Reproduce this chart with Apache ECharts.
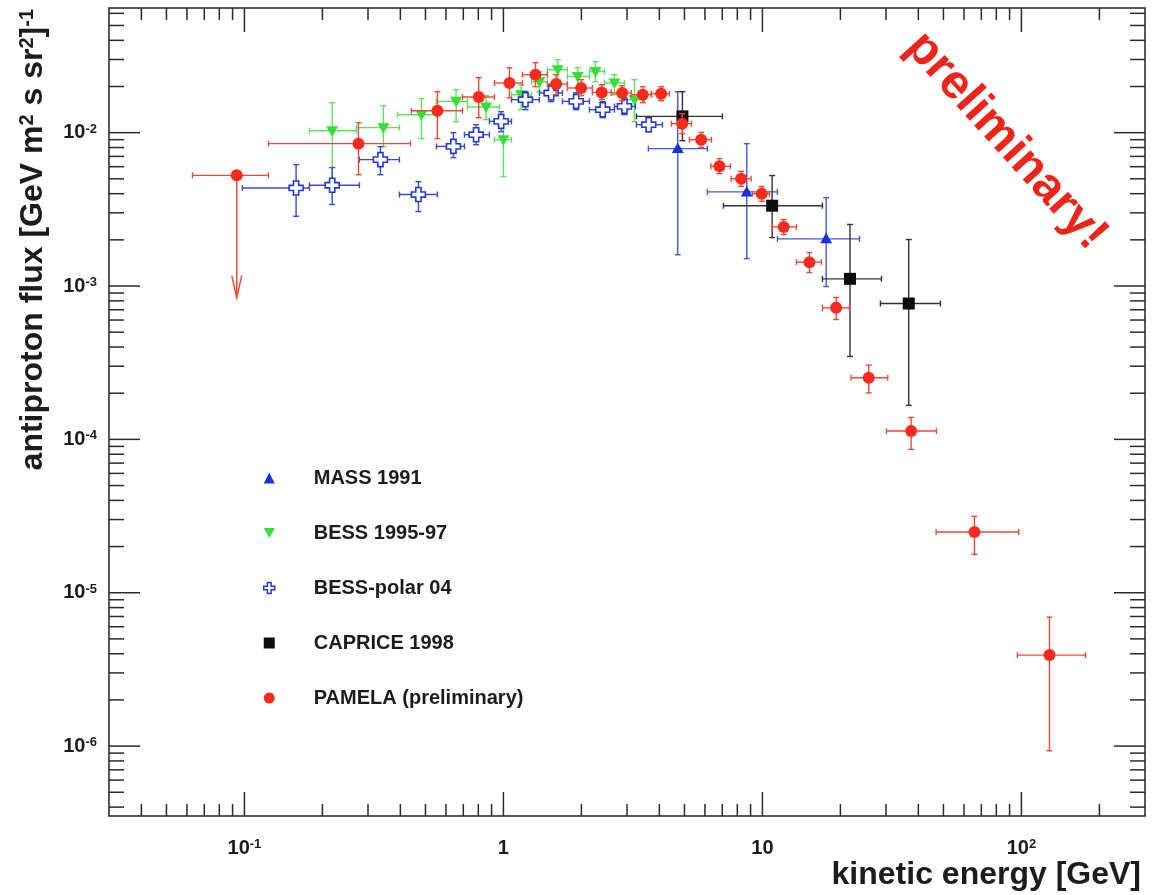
<!DOCTYPE html>
<html>
<head>
<meta charset="utf-8">
<script src="https://cdn.jsdelivr.net/npm/echarts@6/dist/echarts.min.js"></script>
<style>
  html, body { margin: 0; padding: 0; background: #fff; }
  #chart { width: 1157px; height: 895px; }
</style>
</head>
<body>
<div id="chart"></div>
<script>
// ---- axis ranges (GeV, flux) ----
const X_MIN = 0.03, X_MAX = 300;
const Y_MIN = 3.5e-7, Y_MAX = 0.065;
const xMajorTicks = [0.1, 1, 10, 100];
const yMajorTicks = [1e-6, 1e-5, 1e-4, 1e-3, 1e-2];

// ---- PAMELA (preliminary) ----
const pamelaEnergy     = [0.2756, 0.5561, 0.8028, 1.055, 1.329, 1.598, 1.995, 2.396, 2.873, 3.451, 4.064, 4.898, 5.800, 6.823, 8.277, 9.94, 12.08, 15.19, 19.26, 25.73, 37.51, 65.85, 128.3];
const pamelaFlux       = [0.00848, 0.01391, 0.01709, 0.02107, 0.02386, 0.02076, 0.01955, 0.01830, 0.01814, 0.01769, 0.01795, 0.01144, 0.00900, 0.00603, 0.00501, 0.00400, 0.00243, 0.00143, 0.000721, 0.000252, 0.0001133, 2.49e-5, 3.92e-6];
const pamelaEnergyLow  = [0.1238, 0.4414, 0.6948, 0.9232, 1.184, 1.479, 1.766, 2.206, 2.612, 3.120, 3.727, 4.452, 5.226, 6.32, 7.57, 9.15, 10.93, 13.53, 17.05, 22.0, 30.12, 46.84, 96.5];
const pamelaEnergyHigh = [0.4375, 0.6948, 0.9232, 1.184, 1.479, 1.766, 2.206, 2.612, 3.120, 3.727, 4.374, 5.320, 6.355, 7.52, 9.04, 10.64, 13.53, 16.9, 21.68, 30.47, 46.96, 97.6, 176.7];
const pamelaFluxLow    = [0.00532, 0.00914, 0.01252, 0.01690, 0.01994, 0.01769, 0.01742, 0.01641, 0.01616, 0.01568, 0.01616, 0.00985, 0.00799, 0.0054, 0.00447, 0.00357, 0.002165, 0.001225, 0.000605, 0.000201, 0.0000861, 1.78e-5, 9.32e-7];
const pamelaFluxHigh   = [0.01162, 0.0185, 0.02282, 0.02651, 0.02858, 0.02386, 0.02215, 0.02054, 0.02024, 0.01994, 0.01994, 0.0133, 0.01005, 0.00677, 0.0056, 0.00445, 0.00271, 0.001653, 0.000842, 0.000305, 0.000139, 3.15e-5, 6.93e-6];
// lowest-energy PAMELA bin: upper limit [energy, flux, energy low, energy high, arrow tip]
const pamelaLimit = [0.0934, 0.00527, 0.063, 0.1238, 0.00084];

// ---- BESS-polar 04 ----
const bessPolarEnergy     = [0.1583, 0.2182, 0.335, 0.4696, 0.6411, 0.7845, 0.9797, 1.216, 1.528, 1.909, 2.418, 2.933, 3.639];
const bessPolarFlux       = [0.00436, 0.00454, 0.00667, 0.00395, 0.00814, 0.0097, 0.01185, 0.01641, 0.01814, 0.0160, 0.01412, 0.01483, 0.01127];
const bessPolarEnergyLow  = [0.0982, 0.1782, 0.278, 0.3967, 0.5512, 0.7072, 0.8829, 1.074, 1.377, 1.690, 2.148, 2.683, 3.263];
const bessPolarEnergyHigh = [0.1782, 0.278, 0.3967, 0.5561, 0.7072, 0.8829, 1.074, 1.377, 1.690, 2.148, 2.683, 3.234, 4.111];
const bessPolarFluxLow    = [0.00285, 0.0034, 0.00532, 0.00306, 0.00687, 0.00835, 0.01015, 0.01412, 0.01592, 0.01412, 0.01252, 0.0131, 0.01015];
const bessPolarFluxHigh   = [0.00619, 0.00592, 0.0081, 0.00479, 0.0100, 0.01127, 0.0137, 0.0185, 0.02054, 0.01822, 0.01592, 0.0169, 0.01252];

// ---- BESS 1995-97 ----
const bessEnergy     = [0.2182, 0.344, 0.4824, 0.6567, 0.8574, 1.0, 1.170, 1.377, 1.621, 1.936, 2.266, 2.683, 3.205];
const bessFlux       = [0.0103, 0.01078, 0.0131, 0.0160, 0.0147, 0.0090, 0.01769, 0.02149, 0.02572, 0.02326, 0.02507, 0.02107, 0.0164];
const bessEnergyLow  = [0.1782, 0.2706, 0.3897, 0.5512, 0.7262, 0.9232, 1.074, 1.283, 1.479, 1.766, 2.148, 2.455, 2.933];
const bessEnergyHigh = [0.2706, 0.3967, 0.5512, 0.7262, 0.9651, 1.074, 1.283, 1.479, 1.766, 2.148, 2.455, 2.933, 3.502];
const bessFluxLow    = [0.00472, 0.0081, 0.00914, 0.0118, 0.01216, 0.00517, 0.01412, 0.0185, 0.02215, 0.01964, 0.02149, 0.01769, 0.0118];
const bessFluxHigh   = [0.01568, 0.01499, 0.01665, 0.01906, 0.01742, 0.01216, 0.02054, 0.02496, 0.02989, 0.02651, 0.02901, 0.02386, 0.02215];

// ---- MASS 1991 ----
const massEnergy     = [4.710, 8.700, 17.62];
const massFlux       = [0.00787, 0.00411, 0.00203];
const massEnergyLow  = [3.628, 6.133, 11.43];
const massEnergyHigh = [6.133, 11.43, 23.69];
const massFluxLow    = [0.0016, 0.00151, 0.000992];
const massFluxHigh   = [0.0185, 0.00848, 0.00377];

// ---- CAPRICE 1998 ----
const capriceEnergy     = [4.911, 10.90, 21.78, 36.72];
const capriceFlux       = [0.01277, 0.00334, 0.001114, 0.000769];
const capriceEnergyLow  = [3.263, 7.071, 17.05, 28.55];
const capriceEnergyHigh = [7.008, 17.05, 28.81, 48.67];
const capriceFluxLow    = [0.00887, 0.00207, 0.000347, 0.0001666];
const capriceFluxHigh   = [0.0185, 0.00525, 0.00252, 0.00201];

const FONT = '"Liberation Sans", Arial, Helvetica, sans-serif';
const TEXT_COLOR = '#1c1c1c';
const TICK_COLOR = '#2a2a2a';

// log-axis minor tick positions (2..9 x 10^n) strictly inside [min, max]
function minorTicks(min, max) {
  const out = [];
  for (let e = Math.floor(Math.log10(min)); e <= Math.ceil(Math.log10(max)); e++) {
    for (let m = 2; m <= 9; m++) {
      const v = m * Math.pow(10, e);
      if (v > min * 1.0001 && v < max * 0.9999) out.push(v);
    }
  }
  return out;
}

// "10^n" style labels for decades, blank elsewhere
function powerLabel(v) {
  const lg = Math.log10(v);
  const e = Math.round(lg);
  if (Math.abs(lg - e) > 1e-6) return '';
  if (e === 0) return '{b|1}';
  if (e === 1) return '{b|10}';
  return '{b|10}{s|' + e + '}';
}

const labelRich = {
  b: { fontSize: 20, fontWeight: 'bold', fontFamily: FONT, color: TEXT_COLOR },
  s: { fontSize: 13, fontWeight: 'bold', fontFamily: FONT, color: TEXT_COLOR, verticalAlign: 'top' }
};

// ---- marker shapes ----
const markers = {
  circle: (x, y, c) => ({ type: 'circle', shape: { cx: x, cy: y, r: 6 }, style: { fill: c } }),
  square: (x, y, c) => ({ type: 'rect', shape: { x: x - 6, y: y - 6, width: 12, height: 12 }, style: { fill: c } }),
  triangleUp: (x, y, c) => ({ type: 'polygon', shape: { points: [[x, y - 6], [x + 6, y + 4.5], [x - 6, y + 4.5]] }, style: { fill: c } }),
  triangleDown: (x, y, c) => ({ type: 'polygon', shape: { points: [[x, y + 6], [x + 6, y - 4.5], [x - 6, y - 4.5]] }, style: { fill: c } }),
  openCross: (x, y, c) => {
    const a = 7, w = 2.6;
    return {
      type: 'polygon',
      shape: { points: [
        [x - w, y - a], [x + w, y - a], [x + w, y - w], [x + a, y - w], [x + a, y + w], [x + w, y + w],
        [x + w, y + a], [x - w, y + a], [x - w, y + w], [x - a, y + w], [x - a, y - w], [x - w, y - w]
      ] },
      style: { fill: '#fff', stroke: c, lineWidth: 1.6 }
    };
  }
};

function seg(x1, y1, x2, y2, color, width) {
  return { type: 'line', shape: { x1, y1, x2, y2 }, style: { stroke: color, lineWidth: width || 1.4 } };
}

// points with horizontal (bin) and vertical (flux) error bars
function errorBarSeries(name, energy, flux, eLow, eHigh, fLow, fHigh, markerColor, barColor, marker, z) {
  const data = energy.map((e, i) => [e, flux[i], eLow[i], eHigh[i], fLow[i], fHigh[i]]);
  return {
    type: 'custom',
    name,
    coordinateSystem: 'cartesian2d',
    z,
    data,
    encode: { x: [0, 2, 3], y: [1, 4, 5] },
    itemStyle: { color: markerColor },
    renderItem(params, api) {
      const p = api.coord([api.value(0), api.value(1)]);
      const xl = api.coord([api.value(2), api.value(1)])[0];
      const xh = api.coord([api.value(3), api.value(1)])[0];
      const yl = api.coord([api.value(0), api.value(4)])[1];
      const yh = api.coord([api.value(0), api.value(5)])[1];
      const c = 3;
      return {
        type: 'group',
        children: [
          seg(xl, p[1], xh, p[1], barColor),
          seg(p[0], yl, p[0], yh, barColor),
          seg(xl, p[1] - c, xl, p[1] + c, barColor),
          seg(xh, p[1] - c, xh, p[1] + c, barColor),
          seg(p[0] - c, yl, p[0] + c, yl, barColor),
          seg(p[0] - c, yh, p[0] + c, yh, barColor),
          markers[marker](p[0], p[1], markerColor)
        ]
      };
    }
  };
}

// frame ticks: drawn inward on both opposite sides of the plot box
function xTickSeries() {
  const data = xMajorTicks.map(v => [v, Y_MIN, 24]).concat(minorTicks(X_MIN, X_MAX).map(v => [v, Y_MIN, 12]));
  return {
    type: 'custom', silent: true, z: 5, data,
    encode: { x: 0, y: 1 },
    renderItem(params, api) {
      const cs = params.coordSys;
      const x = api.coord([api.value(0), Y_MIN])[0];
      const len = api.value(2);
      const bottom = cs.y + cs.height;
      return { type: 'group', children: [
        seg(x, bottom, x, bottom - len, TICK_COLOR, 1.5),
        seg(x, cs.y, x, cs.y + len, TICK_COLOR, 1.5)
      ] };
    }
  };
}
function yTickSeries() {
  const data = yMajorTicks.map(v => [X_MIN, v, 31]).concat(minorTicks(Y_MIN, Y_MAX).map(v => [X_MIN, v, 15]));
  return {
    type: 'custom', silent: true, z: 5, data,
    encode: { x: 0, y: 1 },
    renderItem(params, api) {
      const cs = params.coordSys;
      const y = api.coord([X_MIN, api.value(1)])[1];
      const len = api.value(2);
      const right = cs.x + cs.width;
      return { type: 'group', children: [
        seg(cs.x, y, cs.x + len, y, TICK_COLOR, 1.5),
        seg(right, y, right - len, y, TICK_COLOR, 1.5)
      ] };
    }
  };
}

// upper limit: horizontal bin bar, vertical line ending in a downward arrow
function upperLimitSeries(limit, color, barColor) {
  return {
    type: 'custom', name: 'PAMELA upper limit', z: 11,
    data: [limit],
    encode: { x: [0, 2, 3], y: [1, 4] },
    renderItem(params, api) {
      const p = api.coord([api.value(0), api.value(1)]);
      const xl = api.coord([api.value(2), api.value(1)])[0];
      const xh = api.coord([api.value(3), api.value(1)])[0];
      const tip = api.coord([api.value(0), api.value(4)])[1];
      const c = 3;
      return { type: 'group', children: [
        seg(xl, p[1], xh, p[1], barColor),
        seg(xl, p[1] - c, xl, p[1] + c, barColor),
        seg(xh, p[1] - c, xh, p[1] + c, barColor),
        seg(p[0], p[1], p[0], tip, barColor, 1.5),
        { type: 'polyline', shape: { points: [[p[0] - 5, tip - 22], [p[0], tip], [p[0] + 5, tip - 22]] },
          style: { stroke: barColor, lineWidth: 1.5, fill: null } },
        markers.circle(p[0], p[1], color)
      ] };
    }
  };
}

const PAMELA_RED = '#fa2a1c', PAMELA_BAR = '#ec4a3c';
const BESS_GREEN = '#33e033', BESS_BAR = '#62df62';
const POLAR_BLUE = '#2438d2', POLAR_BAR = '#3a4acc';
const MASS_BLUE = '#1a2fe2', MASS_BAR = '#4058dc';
const CAPRICE_BLACK = '#0d0d0d', CAPRICE_BAR = '#333';

const chart = echarts.init(document.getElementById('chart'), null, { renderer: 'canvas' });

chart.setOption({
  animation: false,
  backgroundColor: '#fff',
  grid: {
    left: 109, right: 12, top: 8, bottom: 79,
    show: true, borderColor: '#222', borderWidth: 1.5, backgroundColor: 'transparent'
  },
  xAxis: {
    type: 'log', logBase: 10, min: X_MIN, max: X_MAX,
    axisLine: { show: false }, axisTick: { show: false }, splitLine: { show: false },
    axisLabel: { margin: 22, formatter: powerLabel, rich: labelRich, showMinLabel: true, showMaxLabel: true }
  },
  yAxis: {
    type: 'log', logBase: 10, min: Y_MIN, max: Y_MAX,
    axisLine: { show: false }, axisTick: { show: false }, splitLine: { show: false },
    axisLabel: { margin: 12, formatter: powerLabel, rich: labelRich }
  },
  legend: {
    orient: 'vertical', left: 258, top: 462,
    itemWidth: 11, itemHeight: 11, itemGap: 33, selectedMode: false,
    textStyle: { fontSize: 20, fontWeight: 'bold', fontFamily: FONT, color: TEXT_COLOR, lineHeight: 22, padding: [0, 0, 0, 34] },
    data: [
      { name: 'MASS 1991', icon: 'triangle', itemStyle: { color: MASS_BLUE } },
      { name: 'BESS 1995-97', icon: 'path://M0,0L10,0L5,9Z', itemStyle: { color: BESS_GREEN } },
      { name: 'BESS-polar 04', icon: 'path://M4,0H8V4H12V8H8V12H4V8H0V4H4Z',
        itemStyle: { color: '#fff', borderColor: POLAR_BLUE, borderWidth: 1.5 } },
      { name: 'CAPRICE 1998', icon: 'rect', itemStyle: { color: CAPRICE_BLACK } },
      { name: 'PAMELA (preliminary)', icon: 'circle', itemStyle: { color: PAMELA_RED } }
    ]
  },
  graphic: [
    {
      type: 'text', x: 33, y: 9, rotation: Math.PI / 2, z: 20,
      style: {
        text: '{a|antiproton flux [GeV m}{s|2}{a| s sr}{s|2}{a|]}{s|-1}',
        align: 'right', verticalAlign: 'middle',
        rich: {
          a: { fontSize: 32, fontWeight: 'bold', fontFamily: FONT, fill: TEXT_COLOR },
          s: { fontSize: 20, fontWeight: 'bold', fontFamily: FONT, fill: TEXT_COLOR, verticalAlign: 'top' }
        }
      }
    },
    {
      type: 'text', x: 1141, y: 875, z: 20,
      style: { text: 'kinetic energy [GeV]', font: 'bold 32px ' + FONT, fill: TEXT_COLOR, align: 'right', verticalAlign: 'middle' }
    },
    {
      type: 'text', x: 1006, y: 141, rotation: -48 * Math.PI / 180, z: 20,
      style: { text: 'preliminary!', font: 'bold 48px ' + FONT, fill: '#ee2418', align: 'center', verticalAlign: 'middle' }
    }
  ],
  series: [
    xTickSeries(),
    yTickSeries(),
    errorBarSeries('MASS 1991', massEnergy, massFlux, massEnergyLow, massEnergyHigh, massFluxLow, massFluxHigh,
      MASS_BLUE, MASS_BAR, 'triangleUp', 6),
    errorBarSeries('BESS 1995-97', bessEnergy, bessFlux, bessEnergyLow, bessEnergyHigh, bessFluxLow, bessFluxHigh,
      BESS_GREEN, BESS_BAR, 'triangleDown', 7),
    errorBarSeries('BESS-polar 04', bessPolarEnergy, bessPolarFlux, bessPolarEnergyLow, bessPolarEnergyHigh, bessPolarFluxLow, bessPolarFluxHigh,
      POLAR_BLUE, POLAR_BAR, 'openCross', 8),
    errorBarSeries('CAPRICE 1998', capriceEnergy, capriceFlux, capriceEnergyLow, capriceEnergyHigh, capriceFluxLow, capriceFluxHigh,
      CAPRICE_BLACK, CAPRICE_BAR, 'square', 9),
    errorBarSeries('PAMELA (preliminary)', pamelaEnergy, pamelaFlux, pamelaEnergyLow, pamelaEnergyHigh, pamelaFluxLow, pamelaFluxHigh,
      PAMELA_RED, PAMELA_BAR, 'circle', 10),
    upperLimitSeries(pamelaLimit, PAMELA_RED, PAMELA_BAR)
  ]
});
</script>
</body>
</html>
